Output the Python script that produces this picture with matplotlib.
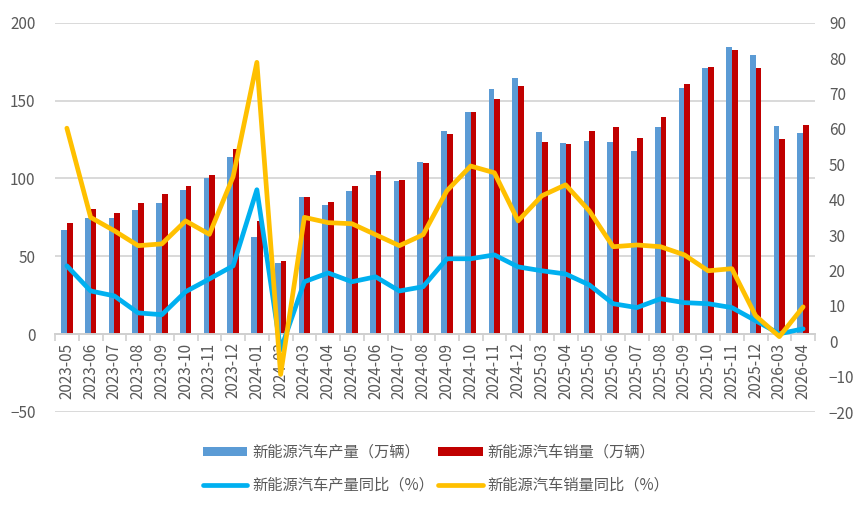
import numpy as np
import matplotlib
matplotlib.use("Agg")
import matplotlib.pyplot as plt

plt.rcParams['font.family'] = ['Noto Sans CJK SC', 'DejaVu Sans']

months = ['2023-05', '2023-06', '2023-07', '2023-08', '2023-09', '2023-10', '2023-11', '2023-12',
          '2024-01', '2024-02', '2024-03', '2024-04', '2024-05', '2024-06', '2024-07', '2024-08',
          '2024-09', '2024-10', '2024-11', '2024-12', '2025-03', '2025-04', '2025-05', '2025-06',
          '2025-07', '2025-08', '2025-09', '2025-10', '2025-11', '2025-12', '2026-03', '2026-04']

# 万辆
production = [66.8, 74.5, 74.5, 79.7, 84.2, 92.5, 100.2, 113.7,
              62.3, 45.6, 88.0, 82.9, 91.9, 102.1, 98.3, 110.5,
              130.4, 142.6, 157.4, 164.5, 129.8, 122.7, 124.0, 123.3,
              117.6, 133.0, 158.0, 170.9, 184.4, 179.2, 133.6, 129.1]
sales = [71.3, 80.3, 77.7, 84.2, 89.9, 95.1, 102.1, 118.8,
         72.6, 46.9, 88.0, 84.8, 95.1, 104.7, 98.9, 109.9,
         128.5, 142.6, 151.0, 159.3, 123.3, 122.1, 130.4, 133.0,
         125.9, 139.4, 160.6, 171.5, 182.4, 170.9, 125.3, 134.3]

# 同比 %
production_yoy = [21.3, 14.2, 12.8, 8.0, 7.5, 14.0, 17.6, 21.3,
                  42.8, -2.4, 16.8, 19.3, 16.8, 18.2, 14.2, 15.4,
                  23.3, 23.3, 24.4, 21.0, 19.9, 19.0, 15.9, 10.6,
                  9.5, 12.0, 10.9, 10.6, 9.5, 5.8, 2.1, 3.5]
sales_yoy = [60.2, 35.0, 31.2, 27.0, 27.5, 34.0, 30.2, 46.5,
             78.8, -9.4, 35.0, 33.5, 33.2, 30.1, 27.0, 30.1,
             42.5, 49.5, 47.6, 34.0, 41.1, 44.2, 36.8, 26.7,
             27.2, 26.7, 24.4, 19.9, 20.5, 7.2, 1.3, 9.7]

txt = '#595959'
grid = '#D9D9D9'

fig = plt.figure(figsize=(8.66, 5.11), dpi=100)
ax = fig.add_axes([55 / 866, 1 - 412 / 511, 760 / 866, (412 - 22.7) / 511])
x = np.arange(len(months))
w = 0.24

b1 = ax.bar(x - w / 2, production, w, color='#5B9BD5', label='新能源汽车产量（万辆）', zorder=2)
b2 = ax.bar(x + w / 2, sales, w, color='#C00000', label='新能源汽车销量（万辆）', zorder=2)

ax.set_xlim(-0.5, len(months) - 0.5)
ax.set_ylim(-50, 200)
ax.set_yticks(np.arange(-50, 201, 50))
ax.grid(axis='y', color=grid, linewidth=1.4, zorder=0)
for s in ['top', 'right', 'left']:
    ax.spines[s].set_visible(False)
ax.spines['bottom'].set_position(('data', 0))
ax.spines['bottom'].set_color('#D0D0D0')
ax.spines['bottom'].set_linewidth(1.4)
ax.set_xticks(x)
ax.set_xticklabels(months, rotation=90, color=txt, fontsize=11)
ax.set_xticks(np.arange(-0.5, len(months), 1), minor=True)
ax.tick_params(axis='x', which='major', length=0, pad=6)
ax.tick_params(axis='x', which='minor', length=5, color='#D0D0D0', width=1.2)
ax.tick_params(axis='y', length=0, labelcolor=txt, labelsize=11, pad=14)

ax2 = ax.twinx()
ax2.set_ylim(-20, 90)
ax2.set_yticks(np.arange(-20, 91, 10))
l1, = ax2.plot(x, production_yoy, color='#00B0F0', lw=3.4, label='新能源汽车产量同比（%）',
               solid_capstyle='round', zorder=3)
l2, = ax2.plot(x, sales_yoy, color='#FFC000', lw=3.4, label='新能源汽车销量同比（%）',
               solid_capstyle='round', zorder=3)
for s in ax2.spines.values():
    s.set_visible(False)
ax2.tick_params(axis='y', length=0, labelcolor=txt, labelsize=11, pad=10)

fig.legend([b1, l1, b2, l2],
           [b1.get_label(), l1.get_label(), b2.get_label(), l2.get_label()],
           ncol=2, loc='center', bbox_to_anchor=(436 / 866, 1 - 469 / 511),
           frameon=False, fontsize=11, labelcolor=txt, handlelength=2.9,
           handleheight=0.6, handletextpad=0.3, columnspacing=0.3, labelspacing=1.05)

fig.savefig('out.png', dpi=100)
